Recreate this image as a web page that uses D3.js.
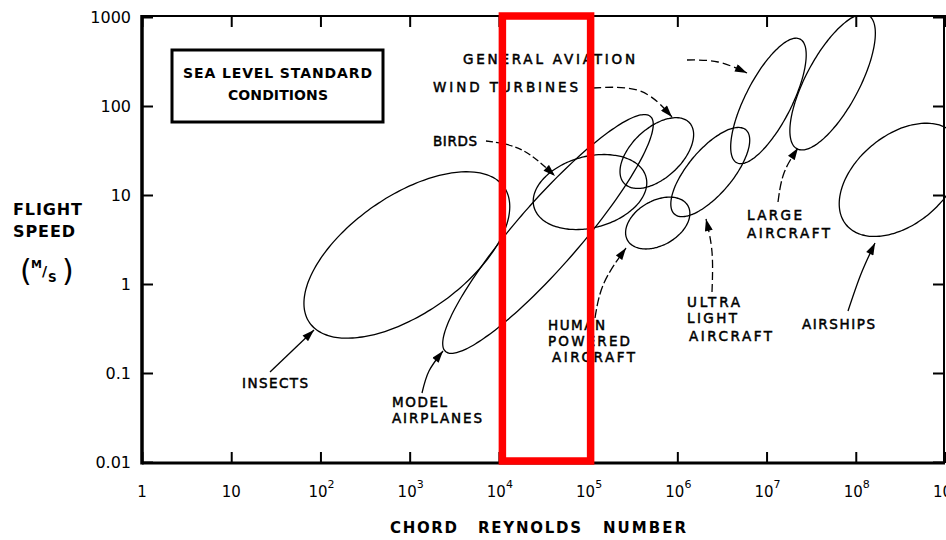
<!DOCTYPE html>
<html>
<head>
<meta charset="utf-8">
<script src="https://cdn.jsdelivr.net/npm/d3@7"></script>
<style>
  html, body { margin: 0; padding: 0; background: #fff; }
  svg { display: block; }
  text { font-family: "DejaVu Sans", sans-serif; fill: #000; }
  .tick-label { font-size: 15px; }
  .note { font-size: 13.5px; stroke: #000; stroke-width: 0.5px; }
  .title { font-size: 15px; font-weight: bold; }
  .regime { fill: none; stroke: #000; stroke-width: 1.3px; }
  .arrow { fill: none; stroke: #000; stroke-width: 1.3px; }
</style>
</head>
<body>
<svg id="chart" width="946" height="540"></svg>
<script>
// flight regimes, each one an ellipse in log-log space
const regimes = ['Insects', 'Model airplanes', 'Birds', 'Wind turbines', 'Human powered aircraft',
                 'Ultra light aircraft', 'General aviation', 'Large aircraft', 'Airships'];
const centerRe = [930, 35500, 105000, 589000, 603000, 2340000, 1.05e7, 5.5e7, 3.16e8];
const centerSpeed = [2.12, 3.65, 10.8, 29.6, 4.84, 18.1, 114, 186, 14.8];
const majorDecades = [1.33, 1.75, 0.65, 0.50, 0.39, 0.62, 0.78, 0.85, 0.79];
const minorDecades = [0.66, 0.36, 0.40, 0.28, 0.25, 0.25, 0.26, 0.30, 0.50];
const tiltDeg = [35, 49, 15, 43, 30, 50, 63, 62, 40];

const xTicks = [1, 1e1, 1e2, 1e3, 1e4, 1e5, 1e6, 1e7, 1e8, 1e9];
const yTicks = [0.01, 0.1, 1, 10, 100, 1000];
const yTickLabels = ['0.01', '0.1', '1', '10', '100', '1000'];
const highlightRe = [1e4, 1e5];

const svg = d3.select('#chart');
const plotLeft = 142, plotRight = 945, plotTop = 17, plotBottom = 462;

const x = d3.scaleLog().domain([1, 1e9]).range([plotLeft, plotRight]);
const y = d3.scaleLog().domain([0.01, 1000]).range([plotBottom, plotTop]);

// arrow head
const defs = svg.append('defs');
defs.append('marker')
    .attr('id', 'head')
    .attr('viewBox', '0 0 12 8')
    .attr('refX', 12).attr('refY', 4)
    .attr('markerWidth', 13).attr('markerHeight', 8)
    .attr('markerUnits', 'userSpaceOnUse')
    .attr('orient', 'auto')
    .append('path').attr('d', 'M0,0 L12,4 L0,8 Z').attr('fill', '#000');

defs.append('clipPath').attr('id', 'plot')
    .append('rect').attr('x', plotLeft).attr('y', plotTop - 1)
    .attr('width', 946 - plotLeft).attr('height', plotBottom - plotTop + 2);

// ticks on all four sides, pointing inward
const tickLen = 11;
const axes = svg.append('g').attr('class', 'axes');
axes.append('g').attr('transform', `translate(0,${plotBottom + 1})`)
    .call(d3.axisBottom(x).tickValues(xTicks).tickSizeInner(-tickLen).tickSizeOuter(0).tickFormat(''));
axes.append('g').attr('transform', `translate(0,${plotTop - 1})`)
    .call(d3.axisTop(x).tickValues(xTicks).tickSizeInner(-tickLen).tickSizeOuter(0).tickFormat(''));
axes.append('g').attr('transform', `translate(${plotLeft},0)`)
    .call(d3.axisLeft(y).tickValues(yTicks).tickSizeInner(-tickLen).tickSizeOuter(0).tickFormat(''));
axes.append('g').attr('transform', `translate(${plotRight - 1},0)`)
    .call(d3.axisRight(y).tickValues(yTicks).tickSizeInner(-tickLen).tickSizeOuter(0).tickFormat(''));
axes.selectAll('.domain').remove();
axes.selectAll('.tick line').attr('stroke', '#000').attr('stroke-width', 2);

// frame
const frame = [
    [plotLeft, plotTop - 1, 946, plotTop - 1, 2],
    [plotRight - 1, plotTop - 1, plotRight - 1, plotBottom + 1, 2],
    [plotLeft, plotBottom + 1, plotRight, plotBottom + 1, 3],
    [plotLeft, plotTop - 2, plotLeft, plotBottom + 2.5, 3.5]
];
svg.append('g').selectAll('line').data(frame).join('line')
    .attr('x1', d => d[0]).attr('y1', d => d[1])
    .attr('x2', d => d[2]).attr('y2', d => d[3])
    .attr('stroke', '#000').attr('stroke-width', d => d[4]);

// tick labels
svg.append('g').selectAll('text').data(yTicks).join('text')
    .attr('class', 'tick-label')
    .attr('x', plotLeft - 11).attr('y', d => y(d) + 5.5)
    .attr('text-anchor', 'end')
    .style('font-size', '16px')
    .text((d, i) => yTickLabels[i]);

const xl = svg.append('g').selectAll('text').data(xTicks).join('text')
    .attr('class', 'tick-label')
    .attr('x', d => x(d) + (d >= 100 ? 1 : 0)).attr('y', 497)
    .attr('text-anchor', 'middle');
xl.each(function(d) {
    const e = Math.round(Math.log10(d));
    const t = d3.select(this);
    if (e < 2) { t.text(e === 0 ? '1' : '10'); return; }
    t.append('tspan').text('10');
    t.append('tspan').attr('dy', -9).style('font-size', '11px').text(e);
});

// regime ellipses
function ellipsePoints(i) {
    const cx = Math.log10(centerRe[i]), cy = Math.log10(centerSpeed[i]);
    const a = majorDecades[i], b = minorDecades[i];
    const t = tiltDeg[i] * Math.PI / 180;
    return d3.range(0, 360, 3).map(deg => {
        const s = deg * Math.PI / 180;
        const u = a * Math.cos(s), v = b * Math.sin(s);
        return [
            x(10 ** (cx + u * Math.cos(t) - v * Math.sin(t))),
            y(10 ** (cy + u * Math.sin(t) + v * Math.cos(t)))
        ];
    });
}
svg.append('g').attr('clip-path', 'url(#plot)')
    .selectAll('path').data(regimes).join('path')
    .attr('class', 'regime')
    .attr('d', (d, i) => d3.line().curve(d3.curveCardinalClosed)(ellipsePoints(i)));

// annotations: text lines [text, x, baseline, width], arrow points, dash
const notes = [
    { lines: [['GENERAL  AVIATION', 463, 64, 172]], arrow: [[687, 60], [718, 62], [747, 73]], dash: '8 4' },
    { lines: [['WIND  TURBINES', 433, 92, 145]], arrow: [[593, 88], [640, 91], [672, 117]], dash: '8 4' },
    { lines: [['BIRDS', 433, 146, 44]], arrow: [[486, 141], [522, 150], [555, 176]], dash: '7 3' },
    { lines: [['INSECTS', 242, 388, 66]], arrow: [[270, 372], [314, 330]], dash: null },
    { lines: [['MODEL', 392, 407, 55], ['AIRPLANES', 392, 423, 90]], arrow: [[422, 393], [429, 371], [443, 351]], dash: null },
    { lines: [['HUMAN', 548, 330, 57], ['POWERED', 548, 346, 82], ['AIRCRAFT', 552, 362, 83]],
      arrow: [[595, 318], [604, 283], [626, 248]], dash: '9 3' },
    { lines: [['ULTRA', 687, 307, 53], ['LIGHT', 687, 323, 50], ['AIRCRAFT', 689, 341, 83]],
      arrow: [[712, 292], [712, 252], [706, 219]], dash: '8 4' },
    { lines: [['LARGE', 747, 220, 55], ['AIRCRAFT', 747, 238, 83]], arrow: [[778, 202], [784, 173], [798, 148]], dash: '9 3' },
    { lines: [['AIRSHIPS', 802, 329, 73]], arrow: [[848, 311], [861, 274], [875, 243]], dash: null }
];
const ng = svg.append('g');
notes.forEach(n => {
    n.lines.forEach(([txt, lx, ly, w]) => {
        ng.append('text').attr('class', 'note')
            .attr('x', lx).attr('y', ly)
            .attr('textLength', w).attr('lengthAdjust', 'spacing')
            .text(txt);
    });
    ng.append('path').attr('class', 'arrow')
        .attr('d', d3.line().curve(d3.curveNatural)(n.arrow))
        .attr('stroke-dasharray', n.dash)
        .attr('marker-end', 'url(#head)');
});

// sea level box
svg.append('rect').attr('x', 172).attr('y', 50).attr('width', 211).attr('height', 72)
    .attr('fill', 'none').attr('stroke', '#000').attr('stroke-width', 3);
svg.append('text').attr('class', 'title').attr('x', 183).attr('y', 78)
    .attr('textLength', 189).attr('lengthAdjust', 'spacing').style('font-size', '14px')
    .text('SEA LEVEL STANDARD');
svg.append('text').attr('class', 'title').attr('x', 228).attr('y', 100)
    .attr('textLength', 100).attr('lengthAdjust', 'spacing').style('font-size', '14px')
    .text('CONDITIONS');

// axis titles
[['CHORD', 390, 67], ['REYNOLDS', 478, 103], ['NUMBER', 603, 83]].forEach(([t, tx, w]) => {
    svg.append('text').attr('class', 'title').attr('x', tx).attr('y', 533)
        .attr('textLength', w).attr('lengthAdjust', 'spacing').text(t);
});
[['FLIGHT', 13, 215, 69], ['SPEED', 13, 237, 62]].forEach(([t, tx, ty, w]) => {
    svg.append('text').attr('class', 'title').attr('x', tx).attr('y', ty)
        .attr('textLength', w).attr('lengthAdjust', 'spacing').style('font-size', '16px').text(t);
});
const unit = svg.append('g');
unit.append('text').attr('x', 20).attr('y', 281).style('font-size', '30px').text('(');
unit.append('text').attr('x', 62).attr('y', 281).style('font-size', '30px').text(')');
unit.append('text').attr('class', 'title').attr('x', 31).attr('y', 268).style('font-size', '11px').text('M');
unit.append('text').attr('x', 42).attr('y', 276).style('font-size', '14px').style('font-weight', 'bold').text('/');
unit.append('text').attr('class', 'title').attr('x', 48).attr('y', 282).style('font-size', '12px').text('S');

// highlighted Reynolds band
svg.append('rect')
    .attr('x', x(highlightRe[0]) + 3.5).attr('y', plotTop - 1)
    .attr('width', x(highlightRe[1]) - x(highlightRe[0]) - 1).attr('height', plotBottom - plotTop)
    .attr('fill', 'none').attr('stroke', '#ff0000').attr('stroke-width', 7.5);
</script>
</body>
</html>
